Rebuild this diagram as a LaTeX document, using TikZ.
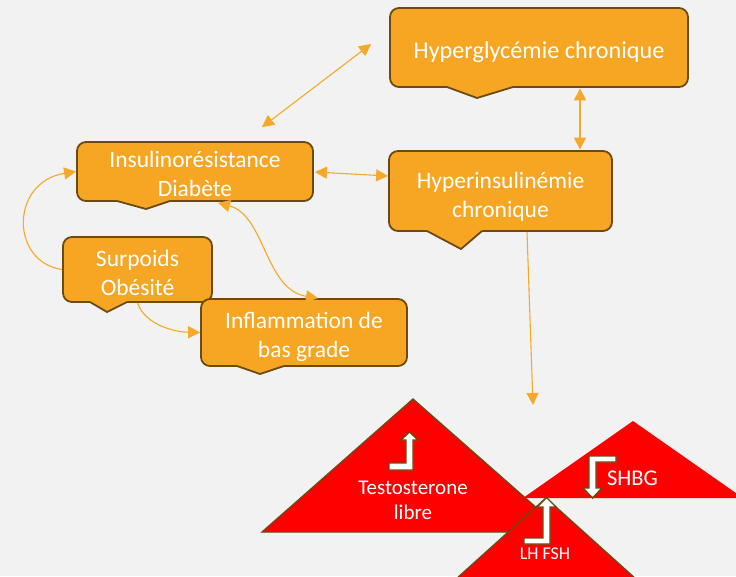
\documentclass[tikz,border=0pt]{standalone}
\usepackage{fontspec}
\setmainfont{Carlito}
\usetikzlibrary{arrows.meta,calc}
\definecolor{bg}{RGB}{242,242,242}
\definecolor{orfill}{RGB}{246,166,35}
\definecolor{brd}{RGB}{108,74,18}
\definecolor{arrc}{RGB}{246,168,40}
\definecolor{tri}{RGB}{255,0,0}
\newcommand{\mypointer}[5]{%
  \fill[orfill] (#1,#5-2.5) -- (#1,#5) -- (#2,#3) -- (#4,#5) -- (#4,#5-2.5) -- cycle;
  \draw[brd, line width=1.8pt, line join=miter] (#1,#5) -- (#2,#3) -- (#4,#5);}
\begin{document}
\begin{tikzpicture}[x=1pt,y=-1pt,
  box/.style={draw=brd, line width=1.8pt, fill=orfill, rounded corners=9pt, inner sep=0pt},
  btxt/.style={text=white, align=center, inner sep=0pt, font=\fontsize{23.5}{29}\selectfont},
  lnk/.style={draw=arrc, line width=1.1pt},
  arr/.style={lnk, -{Triangle[length=12pt,width=12pt]}},
  darr/.style={lnk, {Triangle[length=12pt,width=12pt]}-{Triangle[length=12pt,width=12pt]}},
  trired/.style={fill=tri, draw=brd, line width=1.3pt, line join=miter},
  triplain/.style={fill=tri},
  bent/.style={fill=white, draw=brd, line width=1.4pt, line join=miter},
  tlab/.style={text=white, align=center, inner sep=0pt}]
\useasboundingbox (0,0) rectangle (736,576);
\fill[bg] (0,0) rectangle (736,576);
\clip (0,0) rectangle (736,576);

% callout boxes
\node[box, minimum width=298pt, minimum height=79pt] (hg) at (539,47.5) {};
\mypointer{447}{477}{98}{513}{87}
\node[btxt, font=\fontsize{24.2}{29}\selectfont] (hgt) at ($(hg.center)+(0,4.5)$) {Hyperglycémie chronique};
\node[box, minimum width=236pt, minimum height=59pt] (ir) at (195,171.5) {};
\mypointer{117}{146}{209}{170}{201}
\node[btxt] (irt) at ($(ir.center)+(0,2)$) {Insulinorésistance\\Diabète};
\node[box, minimum width=223pt, minimum height=80pt] (hi) at (500.5,191) {};
\mypointer{427}{461}{249}{482}{231}
\node[btxt] (hit) at ($(hi.center)+(0,5.5)$) {Hyperinsulinémie\\chronique};
\node[box, minimum width=149pt, minimum height=65pt] (so) at (137.5,269.5) {};
\mypointer{90}{107}{312}{127}{302}
\node[btxt] (sot) at ($(so.center)+(0,3)$) {Surpoids\\Obésité};
\node[box, minimum width=206pt, minimum height=67pt] (inf) at (304,332.5) {};
\mypointer{237}{260}{374}{284}{366}
\node[btxt] (inft) at ($(inf.center)+(0,4.5)$) {Inflammation de\\bas grade};

% connectors
\draw[darr] ($(ir.north)+(67,-14)$) -- ($(hg.west)+(-18,-3.5)$);
\draw[darr] ($(hg.south)+(41,0.5)$) -- ($(hi.north)+(79.5,-0.5)$);
\draw[darr] ($(ir.east)+(1,0.5)$) -- ($(hi.west)+(0,-15)$);
\draw[arr] (so.west) .. controls (10,262) and (10,182) .. (ir.west);
\draw[arr] (so.south) .. controls (145,325) and (175,332) .. (inf.west);
\draw[darr] ($(ir.south)+(23,1)$) .. controls (265,215) and (265,290) .. ($(inf.north)+(14,0)$);
\coordinate (down) at (533,405);
\draw[arr] ($(hi.south)+(26.5,0)$) -- (down);

% triangles
\draw[trired] (413,399) -- (262,532) -- (564,532) -- cycle;
\fill[triplain] (633,421) -- (523,498) -- (743,498) -- cycle;
\draw[trired] (546,498) -- (446,588) -- (646,588) -- cycle;

% bent arrows
\draw[bent] (389,470) -- (389,463) -- (406,463) -- (406,440) -- (401,440) -- (409.5,432)
  -- (418,440) -- (413,440) -- (413,470) -- cycle;
\draw[bent] (589,456) -- (616,456) -- (616,462) -- (596,462) -- (596,488) -- (602,488)
  -- (592.5,498) -- (583,488) -- (589,488) -- cycle;
\draw[bent] (524,544) -- (524,538) -- (543,538) -- (543,507) -- (537,507) -- (546.5,497.5)
  -- (556,507) -- (550,507) -- (550,544) -- cycle;

% triangle labels
\node[tlab, font=\fontsize{21}{25}\selectfont] (testo) at (413,500) {Testosterone\\libre};
\node[tlab, font=\fontsize{22.5}{25}\selectfont] (shbg) at (632.5,478) {SHBG};
\node[tlab, font=\fontsize{18}{20}\selectfont] (lh) at (545,554) {LH FSH};
\end{tikzpicture}
\end{document}
